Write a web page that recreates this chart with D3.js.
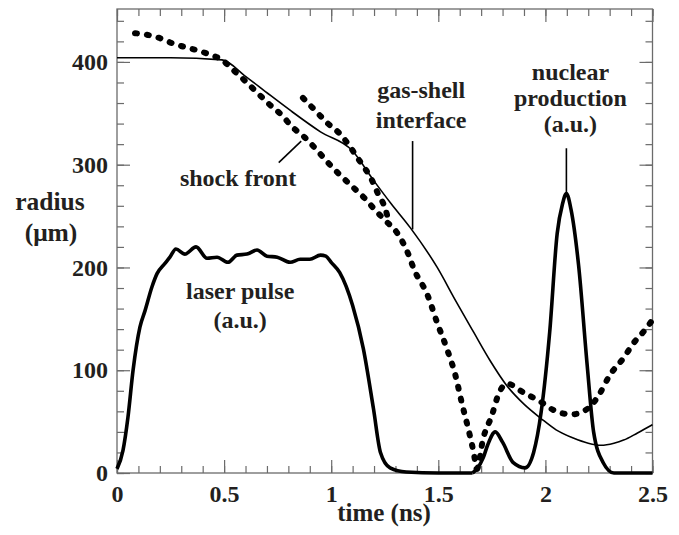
<!DOCTYPE html>
<html>
<head>
<meta charset="utf-8">
<script src="https://cdn.jsdelivr.net/npm/d3@7"></script>
<style>
  body { margin: 0; background: #fff; }
</style>
</head>
<body>
<div id="chart"></div>
<script>
// laser pulse (a.u.)
const laserT = [0, 0.028, 0.051, 0.075, 0.107, 0.131, 0.163, 0.187, 0.224, 0.247, 0.275, 0.317, 0.369, 0.42, 0.467, 0.518, 0.56, 0.607, 0.654, 0.70, 0.748, 0.808, 0.855, 0.90, 0.95, 0.975, 1.0, 1.04, 1.10, 1.15, 1.197, 1.23, 1.275, 1.35, 1.5, 1.66];
const laserR = [4, 22, 54, 100, 142, 158, 181, 194, 204, 210, 218, 213, 220, 209, 210, 205, 212, 213, 217, 211, 210, 205, 208, 208, 212, 211, 205, 195, 163, 121, 63, 20, 5, 1, 0, 0];

// nuclear production (a.u.)
const nuclearT = [1.66, 1.68, 1.71, 1.73, 1.766, 1.80, 1.85, 1.905, 1.945, 1.98, 2.02, 2.055, 2.08, 2.098, 2.12, 2.155, 2.195, 2.225, 2.27, 2.32, 2.4, 2.5];
const nuclearR = [0, 4, 15, 27, 40, 30, 10, 5, 20, 59, 137, 233, 262, 272, 256, 202, 105, 40, 10, 0, 0, 0];

// gas-shell interface
const gasT = [0, 0.25, 0.49, 0.6, 0.70, 0.808, 0.95, 1.097, 1.197, 1.28, 1.368, 1.495, 1.58, 1.665, 1.74, 1.82, 1.90, 1.98, 2.05, 2.13, 2.2, 2.26, 2.32, 2.365, 2.43, 2.5];
const gasR = [404, 404, 402, 386, 370, 353, 332, 314, 285, 262, 239, 200, 168, 137, 110, 85, 67, 53, 42, 34, 29, 27, 29, 32, 39, 47];

// shock front (main) and the upper branch
const shockT = [0.084, 0.17, 0.215, 0.26, 0.326, 0.38, 0.435, 0.49, 0.543, 0.606, 0.66, 0.71, 0.77, 0.817, 0.874, 0.934, 0.985, 1.036, 1.097, 1.158, 1.209, 1.251, 1.31, 1.36, 1.385, 1.45, 1.495, 1.54, 1.58, 1.61, 1.64, 1.665, 1.68, 1.71, 1.75, 1.78, 1.82, 1.90, 1.98, 2.04, 2.12, 2.20, 2.25, 2.30, 2.365, 2.41, 2.46, 2.5];
const shockR = [428, 425, 422, 418, 414, 411, 407, 402, 392, 380, 369, 359, 348, 337, 327, 314, 302, 291, 279, 267, 255, 246, 233, 213, 199, 173, 146, 121, 95, 68, 43, 20, 4, 34, 56, 76, 87, 78, 69, 61, 57, 63, 76, 95, 112, 126, 138, 149];
const shock2T = [0.868, 0.924, 0.985, 1.036, 1.083, 1.125, 1.162, 1.19, 1.218, 1.251, 1.265];
const shock2R = [365, 353, 340, 331, 319, 306, 295, 285, 272, 258, 248];

const xMajor = [0, 0.5, 1, 1.5, 2, 2.5];
const yMajor = [0, 100, 200, 300, 400];

const W = 679, H = 535;
const margin = { left: 117, right: 26.5, top: 9, bottom: 62 };
const FONT = "'Liberation Serif', 'Times New Roman', serif";

const svg = d3.select("#chart").append("svg")
    .attr("width", W)
    .attr("height", H)
    .style("font-family", FONT);

const x = d3.scaleLinear().domain([0, 2.5]).range([margin.left, W - margin.right]);
const y = d3.scaleLinear().domain([0, 451.5]).range([H - margin.bottom, margin.top]);

const xMinor = d3.range(0, 2.501, 0.1);
const yMinor = d3.range(0, 441, 20);

const axisColor = "#6b6b6b";

function styleAxis(g) {
    g.attr("font-family", null).attr("font-size", null);
    g.select(".domain").remove();
    g.selectAll(".tick line").attr("stroke", axisColor).attr("stroke-width", 1.2);
    g.selectAll(".tick text")
        .attr("fill", "#231f20")
        .style("font-family", FONT)
        .style("font-weight", "bold")
        .style("font-size", "24px");
}

// bottom
svg.append("g").attr("transform", `translate(0,${y(0)})`)
    .call(d3.axisBottom(x).tickValues(xMinor).tickSizeInner(-7).tickSizeOuter(0).tickFormat(""))
    .call(styleAxis);
svg.append("g").attr("transform", `translate(0,${y(0)})`)
    .call(d3.axisBottom(x).tickValues(xMajor).tickSizeInner(-13).tickSizeOuter(0).tickPadding(12).tickFormat(d => String(d)))
    .call(styleAxis);
// top
svg.append("g").attr("transform", `translate(0,${margin.top})`)
    .call(d3.axisTop(x).tickValues(xMinor).tickSizeInner(-7).tickSizeOuter(0).tickFormat(""))
    .call(styleAxis);
svg.append("g").attr("transform", `translate(0,${margin.top})`)
    .call(d3.axisTop(x).tickValues(xMajor).tickSizeInner(-13).tickSizeOuter(0).tickFormat(""))
    .call(styleAxis);
// left
svg.append("g").attr("transform", `translate(${x(0)},0)`)
    .call(d3.axisLeft(y).tickValues(yMinor).tickSizeInner(-7).tickSizeOuter(0).tickFormat(""))
    .call(styleAxis);
svg.append("g").attr("transform", `translate(${x(0)},0)`)
    .call(d3.axisLeft(y).tickValues(yMajor).tickSizeInner(-13).tickSizeOuter(0).tickPadding(9).tickFormat(d => String(d)))
    .call(styleAxis);
// right
svg.append("g").attr("transform", `translate(${x(2.5)},0)`)
    .call(d3.axisRight(y).tickValues(yMinor).tickSizeInner(-7).tickSizeOuter(0).tickFormat(""))
    .call(styleAxis);
svg.append("g").attr("transform", `translate(${x(2.5)},0)`)
    .call(d3.axisRight(y).tickValues(yMajor).tickSizeInner(-13).tickSizeOuter(0).tickFormat(""))
    .call(styleAxis);

// frame
svg.append("rect")
    .attr("x", x(0)).attr("y", margin.top)
    .attr("width", x(2.5) - x(0)).attr("height", y(0) - margin.top)
    .attr("fill", "none")
    .attr("stroke", axisColor)
    .attr("stroke-width", 1.3);

const line = d3.line()
    .x(d => x(d[0]))
    .y(d => y(d[1]))
    .curve(d3.curveMonotoneX);

const zip = (a, b) => a.map((v, i) => [v, b[i]]);

// gas-shell interface (thin)
svg.append("path")
    .attr("d", line(zip(gasT, gasR)))
    .attr("fill", "none").attr("stroke", "#000").attr("stroke-width", 1.6);

// shock front (dotted)
[zip(shockT, shockR), zip(shock2T, shock2R)].forEach(pts => {
    svg.append("path")
        .attr("d", line(pts))
        .attr("fill", "none")
        .attr("stroke", "#000")
        .attr("stroke-width", 6)
        .attr("stroke-linecap", "round")
        .attr("stroke-dasharray", "2,10");
});

// laser pulse + nuclear production (thick)
[zip(laserT, laserR), zip(nuclearT, nuclearR)].forEach(pts => {
    svg.append("path")
        .attr("d", line(pts))
        .attr("fill", "none")
        .attr("stroke", "#000")
        .attr("stroke-width", 3.6)
        .attr("stroke-linejoin", "round");
});

// leader lines
const leaders = [
    { t1: 0.755, r1: 302, t2: 0.86, r2: 323 },
    { t1: 1.38, r1: 323, t2: 1.38, r2: 237 },
    { t1: 2.098, r1: 316, t2: 2.098, r2: 272 }
];
svg.selectAll(".leader")
    .data(leaders)
    .enter()
    .append("line")
    .attr("class", "leader")
    .attr("x1", d => x(d.t1)).attr("y1", d => y(d.r1))
    .attr("x2", d => x(d.t2)).attr("y2", d => y(d.r2))
    .attr("stroke", "#000")
    .attr("stroke-width", 1.6);

// annotations
const notes = [
    { t: 0.565, r: 279, text: "shock front" },
    { t: 1.42, r: 365, text: "gas-shell" },
    { t: 1.42, r: 336, text: "interface" },
    { t: 2.117, r: 382, text: "nuclear" },
    { t: 2.117, r: 357, text: "production" },
    { t: 2.117, r: 332, text: "(a.u.)" },
    { t: 0.575, r: 169, text: "laser pulse" },
    { t: 0.575, r: 141, text: "(a.u.)" }
];

function label(px, py, str, size) {
    return svg.append("text")
        .attr("x", px).attr("y", py)
        .attr("text-anchor", "middle")
        .attr("fill", "#231f20")
        .style("font-family", FONT)
        .style("font-weight", "bold")
        .style("font-size", size + "px")
        .text(str);
}

notes.forEach(d => label(x(d.t), y(d.r), d.text, 24));

// axis titles
label(50, 210, "radius", 25.5);
label(51, 241, "(μm)", 25.5);
label(384, 521, "time (ns)", 25);
</script>
</body>
</html>
